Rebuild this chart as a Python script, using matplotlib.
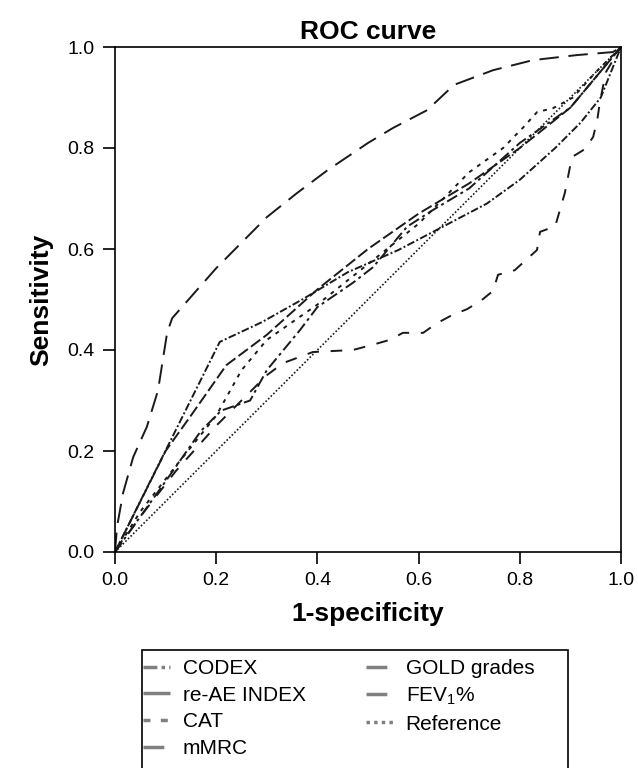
import matplotlib
matplotlib.use("Agg")
import matplotlib.pyplot as plt
from matplotlib.patches import Rectangle

plt.rcParams['font.family'] = ['Liberation Sans', 'DejaVu Sans']
plt.rcParams['mathtext.fontset'] = 'custom'
plt.rcParams['mathtext.rm'] = 'Liberation Sans'
plt.rcParams['mathtext.it'] = 'Liberation Sans'

# ---- data (1-specificity, sensitivity) ----
codex_x = [0.0, 0.207, 0.29, 0.37, 0.46, 0.56, 0.64, 0.735, 0.80, 0.87, 0.92, 0.96, 1.0]
codex_y = [0.0, 0.416, 0.455, 0.50, 0.554, 0.598, 0.64, 0.69, 0.737, 0.80, 0.85, 0.90, 1.0]

reae_x = [0.0, 0.004, 0.016, 0.036, 0.063, 0.085, 0.103, 0.113, 0.20, 0.30, 0.36, 0.42, 0.50,
          0.55, 0.617, 0.67, 0.747, 0.826, 0.913, 0.984, 1.0]
reae_y = [0.0, 0.05, 0.117, 0.188, 0.248, 0.32, 0.434, 0.463, 0.562, 0.663, 0.711, 0.756, 0.81,
          0.84, 0.875, 0.925, 0.954, 0.974, 0.984, 0.99, 1.0]

cat_x = [0.0, 0.05, 0.12, 0.20, 0.25, 0.30, 0.40, 0.50, 0.60, 0.70, 0.767, 0.806, 0.834, 0.866, 0.905, 0.95, 1.0]
cat_y = [0.0, 0.08, 0.17, 0.27, 0.36, 0.42, 0.49, 0.57, 0.65, 0.752, 0.80, 0.84, 0.871, 0.879, 0.90, 0.95, 1.0]

mmrc_x = [0.0, 0.10, 0.15, 0.22, 0.30, 0.40, 0.50, 0.60, 0.70, 0.80, 0.90, 1.0]
mmrc_y = [0.0, 0.20, 0.27, 0.37, 0.43, 0.52, 0.60, 0.67, 0.73, 0.80, 0.88, 1.0]

gold_x = [0.0, 0.10, 0.17, 0.21, 0.267, 0.30, 0.366, 0.40, 0.47, 0.51, 0.577, 0.628, 0.70, 0.80, 0.90, 1.0]
gold_y = [0.0, 0.14, 0.24, 0.28, 0.30, 0.36, 0.44, 0.485, 0.533, 0.564, 0.644, 0.677, 0.72, 0.81, 0.88, 1.0]

fev_x = [0.0, 0.05, 0.12, 0.20, 0.25, 0.30, 0.332, 0.391, 0.47, 0.508, 0.543, 0.569, 0.609, 0.636,
         0.666, 0.696, 0.725, 0.747, 0.757, 0.79, 0.834, 0.84, 0.87, 0.889, 0.903, 0.929, 0.945,
         0.953, 0.958, 0.97, 1.0]
fev_y = [0.0, 0.07, 0.16, 0.25, 0.30, 0.35, 0.374, 0.396, 0.40, 0.41, 0.42, 0.434, 0.434, 0.453,
         0.469, 0.481, 0.499, 0.517, 0.549, 0.558, 0.598, 0.634, 0.645, 0.711, 0.782, 0.798, 0.822,
         0.855, 0.889, 0.95, 1.0]

ref_x = [0.0, 1.0]
ref_y = [0.0, 1.0]

labels = ["CODEX", "re-AE INDEX", "CAT", "mMRC", "GOLD grades", "FEV$_\\mathregular{1}$%", "Reference"]
ticks = [0.0, 0.2, 0.4, 0.6, 0.8, 1.0]
tick_labels = ["0.0", "0.2", "0.4", "0.6", "0.8", "1.0"]

W, H = 638, 768
fig = plt.figure(figsize=(W / 100, H / 100), dpi=100)
ax = fig.add_axes([115 / W, 1 - 552 / H, 506 / W, 505 / H])

col = '#1a1a1a'
lw = 1.4
styles = [(0, (4, 1.2, 1, 1.2)), (0, (10, 5)), (0, (2, 3)), (0, (6, 2)),
          (0, (6, 2, 1.5, 2)), (0, (6, 6)), (0, (1, 1.2))]
series = [(codex_x, codex_y), (reae_x, reae_y), (cat_x, cat_y), (mmrc_x, mmrc_y),
          (gold_x, gold_y), (fev_x, fev_y), (ref_x, ref_y)]
handles = []
for (xs, ys), st in zip(series, styles):
    h, = ax.plot(xs, ys, color=col, lw=lw if st != styles[-1] else 1.2, ls=st)
    handles.append(h)

ax.set_xlim(0, 1)
ax.set_ylim(0, 1)
ax.set_xticks(ticks)
ax.set_xticklabels(tick_labels)
ax.set_yticks(ticks)
ax.set_yticklabels(tick_labels)
ax.tick_params(direction='out', length=8.6, width=1.2, labelsize=14, pad=6)
for s in ax.spines.values():
    s.set_linewidth(1.2)

ax.set_title("ROC curve", fontsize=19, fontweight='bold', pad=6)
ax.set_xlabel("1-specificity", fontsize=19, fontweight='bold', labelpad=9)
ax.set_ylabel("Sensitivity", fontsize=19, fontweight='bold', labelpad=10)

leg = fig.legend(handles, labels, ncol=2,
                 loc='upper left', bbox_to_anchor=(143 / W, 1 - 659 / H),
                 frameon=False, fontsize=15,
                 handlelength=1.3, handletextpad=0.6, columnspacing=2.9,
                 labelspacing=0.37, borderpad=0, borderaxespad=0)
for lh in leg.get_lines():
    lh.set_color('#808080')
    lh.set_linewidth(2.5)

fig.patches.append(Rectangle((142 / W, 1 - 775 / H), 426 / W, 125 / H,
                             transform=fig.transFigure, fill=False,
                             edgecolor='black', linewidth=1.2))

fig.savefig("out.png", dpi=100)
